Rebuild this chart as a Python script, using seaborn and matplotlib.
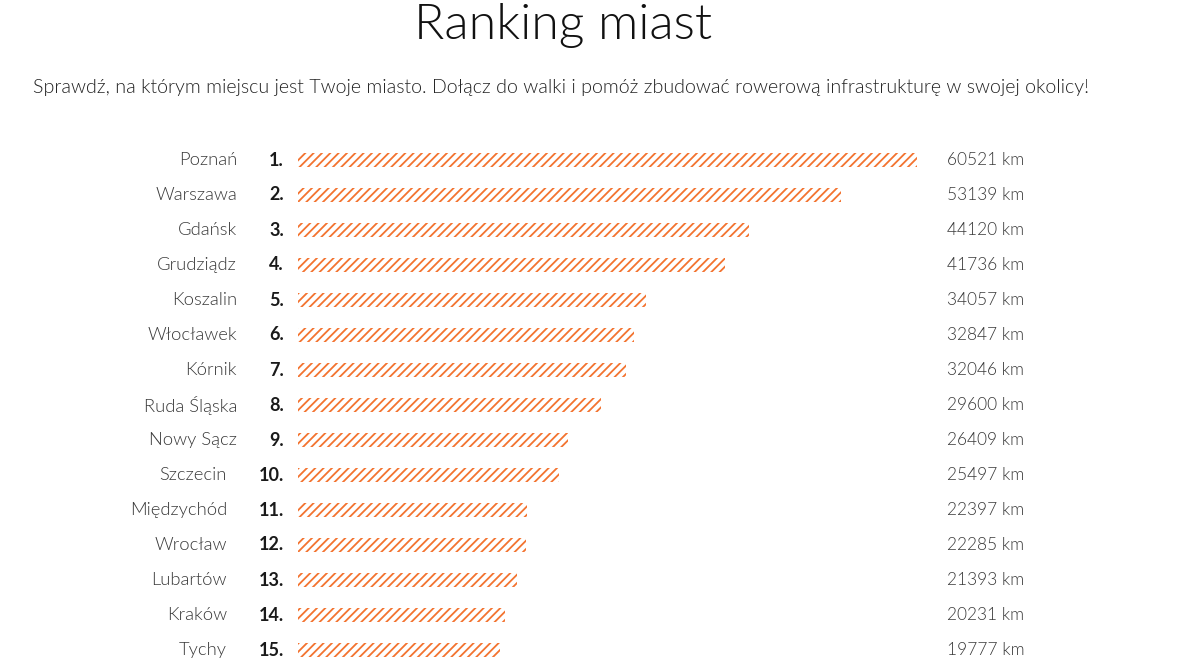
import matplotlib
matplotlib.use("Agg")
import matplotlib.pyplot as plt
import seaborn as sns
import pandas as pd

# dane rankingu
cities = ["Poznań", "Warszawa", "Gdańsk", "Grudziądz", "Koszalin", "Włocławek",
          "Kórnik", "Ruda Śląska", "Nowy Sącz", "Szczecin", "Międzychód",
          "Wrocław", "Lubartów", "Kraków", "Tychy"]
km = [60521, 53139, 44120, 41736, 34057, 32847, 32046, 29600, 26409, 25497,
      22397, 22285, 21393, 20231, 19777]
ranks = [f"{i}." for i in range(1, len(cities) + 1)]

df = pd.DataFrame({"city": cities, "km": km})

sns.set_style("white")
plt.rcParams["font.family"] = ["Lato", "DejaVu Sans"]
plt.rcParams["hatch.linewidth"] = 1.3

ORANGE = "#f3732f"
LIGHT = 300

W, H = 1178, 659
fig = plt.figure(figsize=(W / 100, H / 100), dpi=100)
fig.patch.set_facecolor("white")

# os: od 298 px do 917 px, wiersze co 35 px
ax = fig.add_axes([298 / W, 0, 619 / W, (659 - 142.5) / H])
sns.barplot(data=df, x="km", y="city", ax=ax, orient="h", width=0.4,
            color="white", edgecolor=ORANGE, linewidth=0, hatch="////")
ax.set_xlim(0, max(km))
ax.set_ylim(14 + 9 / 35, -0.5)
ax.set_axis_off()

tr = ax.get_yaxis_transform()
for i, (c, r, v) in enumerate(zip(cities, ranks, km)):
    # przy dwucyfrowych miejscach nazwa przesunięta w lewo
    name_x = -0.0985 if len(r) < 3 else -0.1147
    ax.text(name_x, i, c, transform=tr, ha="right", va="center",
            fontsize=13.2, fontweight=LIGHT, color="#3a3a3a")
    ax.text(-0.0226, i, r, transform=tr, ha="right", va="center",
            fontsize=13, fontweight="bold", color="#1a1a1a")
    ax.text(1.0485, i, f"{v} km", transform=tr, ha="left", va="center",
            fontsize=12.5, fontweight=LIGHT, color="#3a3a3a")

fig.text(563 / W, 1 - 25 / H, "Ranking miast", ha="center", va="center",
         fontsize=36, fontweight=LIGHT, color="#111111")
fig.text(33 / W, 1 - 88 / H,
         "Sprawdź, na którym miejscu jest Twoje miasto. Dołącz do walki i pomóż "
         "zbudować rowerową infrastrukturę w swojej okolicy!",
         ha="left", va="center", fontsize=14.15, fontweight=LIGHT, color="#222222")

fig.savefig("out.png", dpi=100, facecolor="white")
